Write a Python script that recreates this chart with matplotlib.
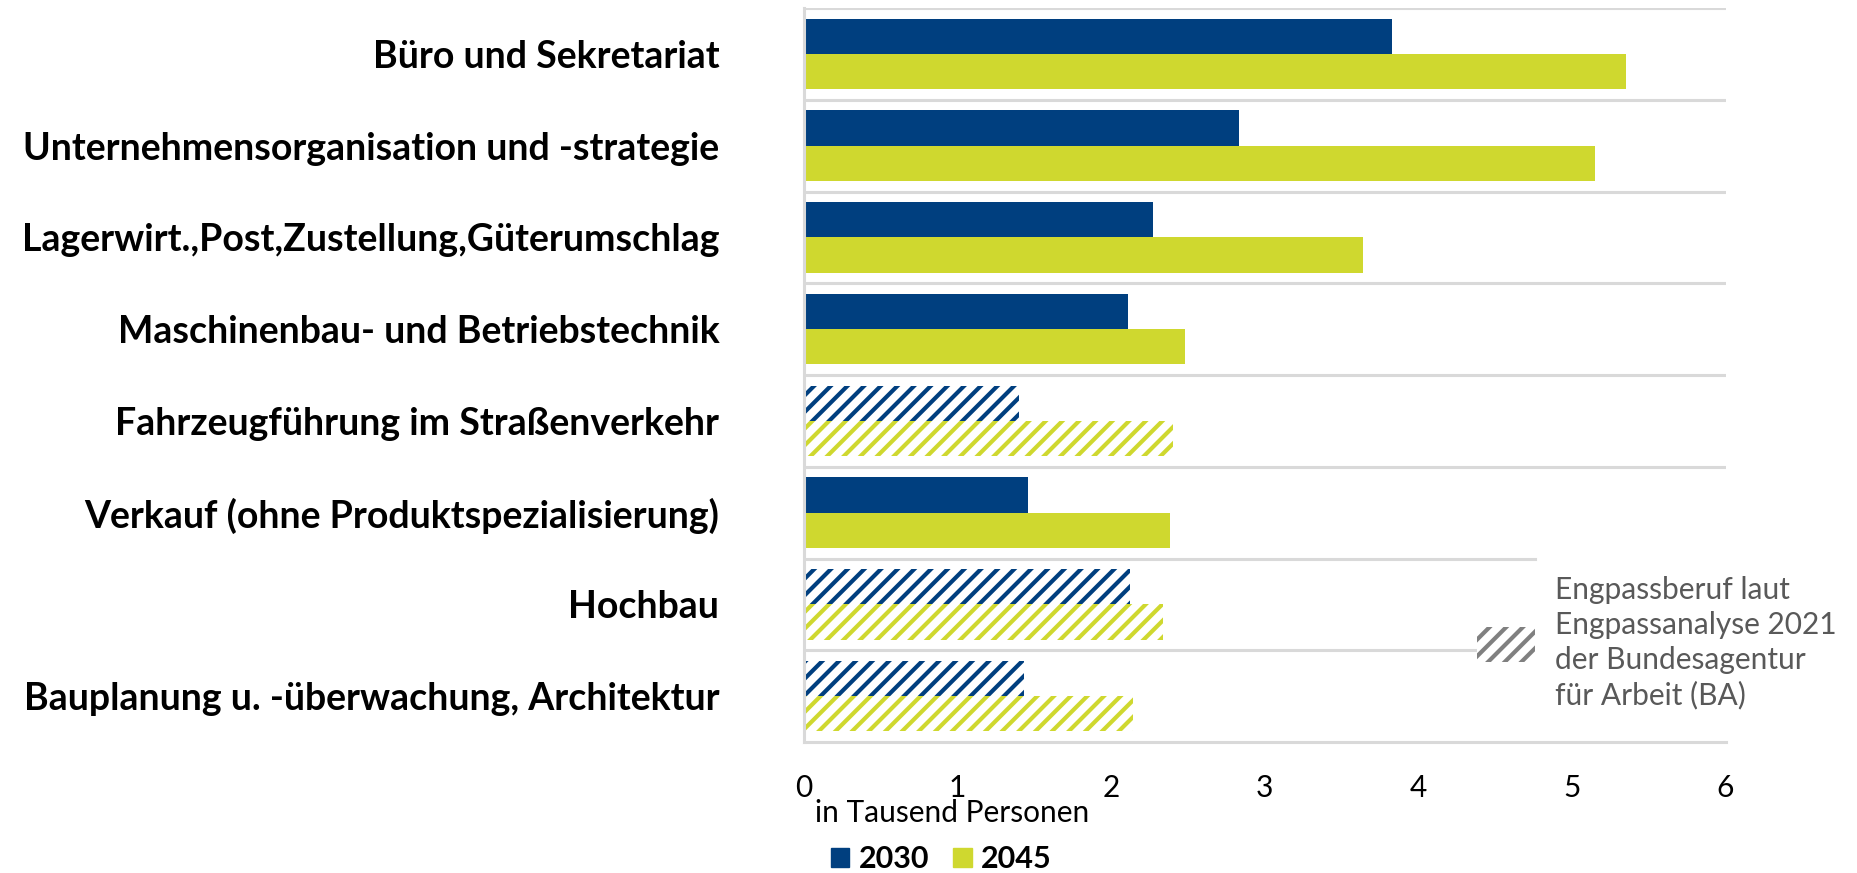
import matplotlib
matplotlib.use("Agg")
import numpy as np
import matplotlib.pyplot as plt
from matplotlib.patches import Patch, Rectangle

plt.rcParams['font.family'] = ['Lato', 'DejaVu Sans']
plt.rcParams['hatch.linewidth'] = 3.0

# data, top to bottom
berufe = [
    "Büro und Sekretariat",
    "Unternehmensorganisation und -strategie",
    "Lagerwirt.,Post,Zustellung,Güterumschlag",
    "Maschinenbau- und Betriebstechnik",
    "Fahrzeugführung im Straßenverkehr",
    "Verkauf (ohne Produktspezialisierung)",
    "Hochbau",
    "Bauplanung u. -überwachung, Architektur",
]
werte_2030 = [3.83, 2.83, 2.27, 2.11, 1.40, 1.46, 2.12, 1.43]
werte_2045 = [5.35, 5.15, 3.64, 2.48, 2.40, 2.38, 2.34, 2.14]
engpass = [False, False, False, False, True, False, True, True]
x_ticks = [0, 1, 2, 3, 4, 5, 6]

blau = "#003f7f"
gruen = "#cfd82f"
grau = "#d9d9d9"

W, H = 1857, 873
fig = plt.figure(figsize=(W / 100, H / 100), dpi=100)
ax = fig.add_axes([804 / W, 131 / H, 921.5 / W, 734 / H])

y = np.arange(len(berufe))
h = 0.385

for i in range(len(berufe)):
    for val, col, off in [(werte_2030[i], blau, -h / 2), (werte_2045[i], gruen, h / 2)]:
        if engpass[i]:
            ax.barh(y[i] + off, val, height=h, color="white", edgecolor=col,
                    hatch="//", linewidth=0, zorder=2)
        else:
            ax.barh(y[i] + off, val, height=h, color=col, linewidth=0, zorder=2)

ax.set_xlim(0, 6)
ax.set_ylim(7.5, -0.5)

# separators between categories
for k in range(len(berufe)):
    sep = k - 0.5
    xmax = 1.0
    if k == 6:
        xmax = 4.76 / 6
    if k == 7:
        xmax = 4.38 / 6
    ax.axhline(sep, xmin=0, xmax=xmax, color=grau, lw=2.2, zorder=1)

for s in ["top", "right"]:
    ax.spines[s].set_visible(False)
for s in ["left", "bottom"]:
    ax.spines[s].set_color(grau)
    ax.spines[s].set_linewidth(2.2)

ax.set_yticks(y)
ax.set_yticklabels(berufe, fontsize=27, fontweight="bold")
ax.tick_params(axis="y", length=0, pad=61)
ax.set_xticks(x_ticks)
ax.set_xticklabels([str(t) for t in x_ticks], fontsize=21.5)
ax.tick_params(axis="x", length=0, pad=23)

fig.text(815 / W, 1 - 813 / H, "in Tausend Personen", fontsize=21.5,
         ha="left", va="center")

# Engpass note
fig.patches.append(Rectangle((1477 / W, 1 - 662 / H), 58 / W, 35 / H,
                             transform=fig.transFigure, facecolor="white",
                             edgecolor="#808080", hatch="//", linewidth=0))
fig.text(1555 / W, 1 - 643 / H,
         "Engpassberuf laut\nEngpassanalyse 2021\nder Bundesagentur\nfür Arbeit (BA)",
         fontsize=21.5, color="#595959", ha="left", va="center", linespacing=1.3)

handles = [Patch(color=blau, label="2030"), Patch(color=gruen, label="2045")]
fig.legend(handles=handles, loc="center left", bbox_to_anchor=(831 / W, 1 - 859 / H),
           ncol=2, frameon=False, prop={"size": 22, "weight": "bold"},
           handlelength=0.6, handleheight=0.6, handletextpad=0.3,
           columnspacing=0.8, borderpad=0, borderaxespad=0)

fig.savefig("out.png", dpi=100)
